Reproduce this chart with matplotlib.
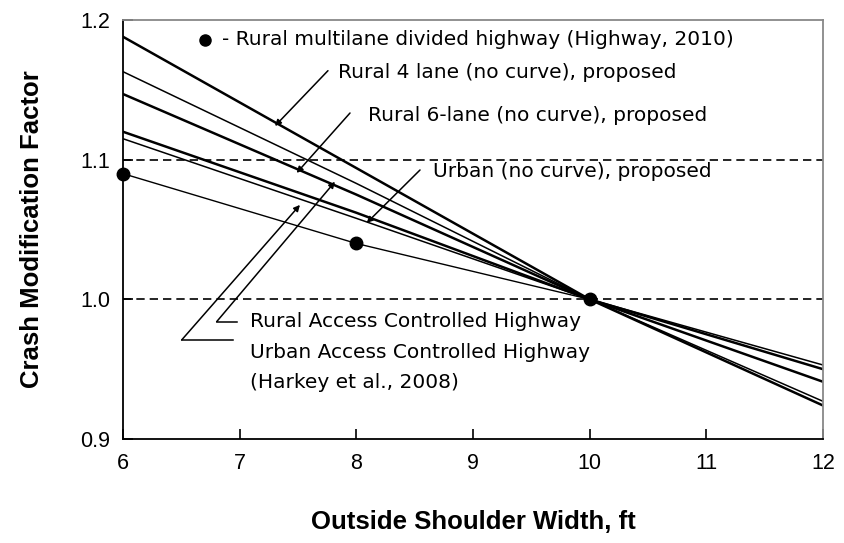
import matplotlib
matplotlib.use('Agg')
import matplotlib.pyplot as plt

plt.rcParams['font.family'] = ['Liberation Sans', 'DejaVu Sans']

# shoulder width (ft) and CMF values
width = [6, 8, 10, 12]
cmf_lines = [
    [1.188, 1.094, 1.0, 0.924],
    [1.163, 1.083, 1.0, 0.927],
    [1.147, 1.075, 1.0, 0.941],
    [1.120, 1.062, 1.0, 0.950],
    [1.115, 1.058, 1.0, 0.953],
]
line_lw = [1.8, 1.1, 1.8, 1.8, 1.1]

# HSM rural multilane divided highway points
hsm_width = [6, 8, 10]
hsm_cmf = [1.09, 1.04, 1.00]

fig = plt.figure(figsize=(8.44, 5.43), dpi=100)
ax = fig.add_axes([0.1457, 0.1915, 0.8294, 0.7717])

for vals, lw in zip(cmf_lines, line_lw):
    ax.plot(width, vals, '-', color='black', linewidth=lw)

ax.plot(hsm_width, hsm_cmf, '-', color='black', linewidth=1.0)
ax.plot(hsm_width, hsm_cmf, 'o', color='black', markersize=9, clip_on=False, zorder=5)

ax.axhline(1.1, color='black', linestyle=(0, (5, 3)), linewidth=1.2)
ax.axhline(1.0, color='black', linestyle=(0, (5, 3)), linewidth=1.2)

ax.set_xlim(6, 12)
ax.set_ylim(0.9, 1.2)
ax.set_xticks([6, 7, 8, 9, 10, 11, 12])
ax.set_yticks([0.9, 1.0, 1.1, 1.2])
ax.set_yticklabels(['0.9', '1.0', '1.1', '1.2'])
ax.tick_params(direction='in', length=7, width=1.2, labelsize=15.5, colors='black')
ax.tick_params(axis='x', pad=10)
ax.tick_params(axis='y', pad=9)
for s in ['left', 'bottom']:
    ax.spines[s].set_linewidth(1.3)
for s in ['top', 'right']:
    ax.spines[s].set_color('#888888')
    ax.spines[s].set_linewidth(1.3)

ax.set_xlabel('Outside Shoulder Width, ft', fontsize=18.5, fontweight='bold', labelpad=26)
ax.set_ylabel('Crash Modification Factor', fontsize=18.5, fontweight='bold', labelpad=26)

fs = 14.5
tf = ['DejaVu Sans']
ax.plot(6.703, 1.1857, 'o', color='black', markersize=8)
ax.text(6.849, 1.1857, '- Rural multilane divided highway (Highway, 2010)', fontsize=fs, family=tf, va='center')
ax.text(7.843, 1.1621, 'Rural 4 lane (no curve), proposed', fontsize=fs, family=tf, va='center')
ax.text(8.100, 1.1313, 'Rural 6-lane (no curve), proposed', fontsize=fs, family=tf, va='center')
ax.text(8.657, 1.0912, 'Urban (no curve), proposed', fontsize=fs, family=tf, va='center')
ax.text(7.089, 0.9838, 'Rural Access Controlled Highway', fontsize=fs, family=tf, va='center')
ax.text(7.089, 0.9616, 'Urban Access Controlled Highway', fontsize=fs, family=tf, va='center')
ax.text(7.089, 0.9402, '(Harkey et al., 2008)', fontsize=fs, family=tf, va='center')

ap = dict(arrowstyle='-|>', color='black', lw=1.1, mutation_scale=9, shrinkA=0, shrinkB=0)
ax.annotate('', xy=(7.303, 1.1241), xytext=(7.757, 1.1637), arrowprops=ap)
ax.annotate('', xy=(7.489, 1.0905), xytext=(7.946, 1.1334), arrowprops=ap)
ax.annotate('', xy=(8.089, 1.0547), xytext=(8.546, 1.0926), arrowprops=ap)
ax.annotate('', xy=(7.517, 1.0676), xytext=(6.503, 0.9709), arrowprops=ap)
ax.annotate('', xy=(7.817, 1.0842), xytext=(6.803, 0.9840), arrowprops=ap)
ax.plot([6.503, 6.943], [0.9709, 0.9709], color='black', lw=1.1)
ax.plot([6.803, 6.975], [0.9840, 0.9840], color='black', lw=1.1)

fig.savefig('out.png', dpi=100)
